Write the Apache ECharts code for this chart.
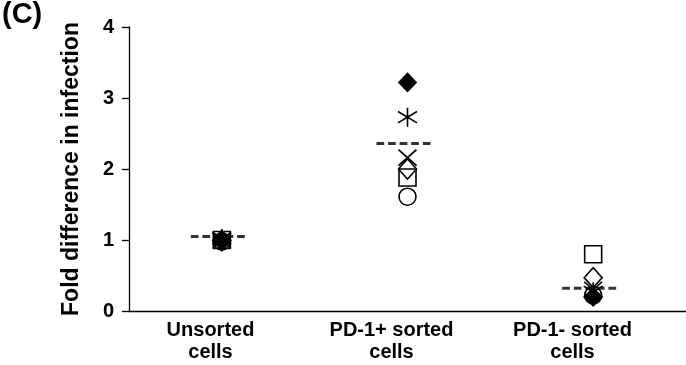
<!DOCTYPE html>
<html><head><meta charset="utf-8">
<script src="https://cdn.jsdelivr.net/npm/echarts@6/dist/echarts.min.js"></script>
<style>html,body{margin:0;padding:0;background:#fff}#c{width:686px;height:365px}</style>
</head><body><div id="c"></div>
<script>
var categories = ['Unsorted\ncells', 'PD-1+ sorted\ncells', 'PD-1- sorted\ncells'];
var yTicks = [0, 1, 2, 3, 4];
var filledDiamond = [1.0, 3.22, 0.20];
var asterisk = [1.02, 2.73, 0.27];
var crossMark = [1.0, 2.16, 0.30];
var openDiamond = [0.99, 2.00, 0.47];
var openSquare = [1.0, 1.88, 0.80];
var openCircle = [0.98, 1.61, 0.22];
var meanValues = [1.05, 2.36, 0.32];

var FONT = '"Liberation Sans", Arial, Helvetica, sans-serif';
var chart = echarts.init(document.getElementById('c'), null, {renderer: 'canvas'});
var dashPath = 'path://M0,0h8v3h-8zM12,0h8v3h-8zM24,0h8v3h-8zM36,0h8v3h-8zM48,0h8v3h-8z';
function sc(name, data, symbol, size, filled, z) {
  return {
    type: 'scatter', name: name, xAxisIndex: 0, yAxisIndex: 0,
    data: data, symbol: symbol, symbolSize: size, z: z || 3,
    itemStyle: filled ? {color: '#000', borderColor: '#000', borderWidth: 1, opacity: 1}
                      : {color: 'rgba(0,0,0,0)', borderColor: '#000', borderWidth: 1.6, opacity: 1},
    emphasis: {disabled: true}, silent: true
  };
}
chart.setOption({
  animation: false,
  backgroundColor: '#fff',
  grid: [
    {left: 129, right: 0, top: 27, bottom: 54},
    {left: 120, right: 23, top: 27, bottom: 54}
  ],
  xAxis: [
    {type: 'category', gridIndex: 0, data: categories, boundaryGap: true,
     axisLine: {lineStyle: {color: '#000', width: 1.3}}, axisTick: {show: false},
     axisLabel: {show: false}, splitLine: {show: false}},
    {type: 'category', gridIndex: 1, data: categories, boundaryGap: true,
     axisLine: {show: false}, axisTick: {show: false}, splitLine: {show: false},
     axisLabel: {color: '#000', fontFamily: FONT, fontWeight: 'bold', fontSize: 20, lineHeight: 22, margin: 8}}
  ],
  yAxis: [
    {type: 'value', gridIndex: 0, min: 0, max: 4, interval: 1,
     axisLine: {show: true, lineStyle: {color: '#000', width: 1.3}},
     axisTick: {show: true, length: 7, inside: false, lineStyle: {color: '#000', width: 1.3}},
     axisLabel: {color: '#000', fontFamily: FONT, fontWeight: 'bold', fontSize: 20, margin: 15,
       formatter: function (v) { return yTicks.indexOf(v) >= 0 ? String(v) : ''; }},
     splitLine: {show: false},
     name: 'Fold difference in infection', nameLocation: 'middle', nameGap: 46,
     nameTextStyle: {color: '#000', fontFamily: FONT, fontWeight: 'bold', fontSize: 23}},
    {type: 'value', gridIndex: 1, min: 0, max: 4, show: false}
  ],
  graphic: [
    {type: 'text', left: 2, top: 0, style: {text: '(C)', font: 'bold 29px ' + FONT, fill: '#000'}}
  ],
  series: [
    {type: 'scatter', name: 'mean', xAxisIndex: 0, yAxisIndex: 0, data: meanValues,
     symbol: dashPath, symbolSize: [54, 3], symbolKeepAspect: false, symbolOffset: [-4, 0], z: 2,
     itemStyle: {color: '#000'}, silent: true},
    sc('open diamond', openDiamond, 'diamond', [18, 20], false),
    sc('filled diamond', filledDiamond, 'diamond', [18, 19], true),
    sc('asterisk', asterisk, 'path://M10,0L10,20M1,4L19,16M1,16L19,4', [19, 19], false),
    sc('cross', crossMark, 'path://M0,0L20,20M0,20L20,0', [18, 16], false),
    sc('square', openSquare, 'rect', [17, 17], false),
    sc('circle', openCircle, 'circle', [17, 17], false)
  ]
});
</script></body></html>
